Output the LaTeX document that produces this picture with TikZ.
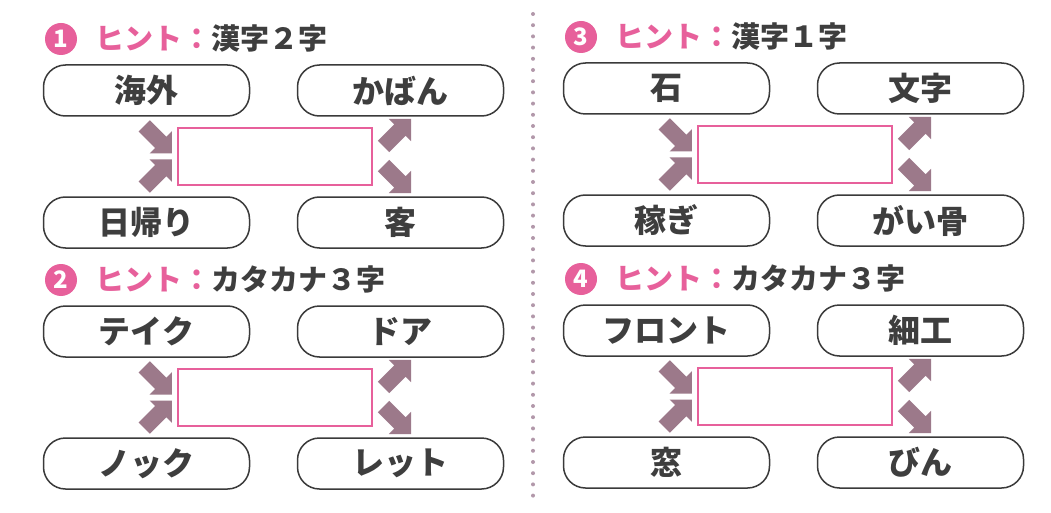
\documentclass[tikz,border=0pt]{standalone}
\usepackage{fontspec}
\newfontfamily\jp{Noto Sans CJK JP}
\newfontfamily\jpblack{Noto Sans CJK JP Black}
\newfontfamily\jpmed{Noto Sans CJK JP Medium}
\usetikzlibrary{calc}
\definecolor{pinkc}{RGB}{231,96,155}
\definecolor{arrowc}{RGB}{156,121,138}
\definecolor{textc}{RGB}{62,62,62}
\definecolor{linec}{RGB}{58,58,58}
\definecolor{dotc}{RGB}{178,152,170}
\tikzset{
  pill/.style={draw=linec, line width=1.5pt, rounded corners=22pt, minimum width=206pt,
    minimum height=51pt, inner sep=0pt, text=textc, font=\jpblack\fontsize{32pt}{36pt}\selectfont},
  ansbox/.style={draw=pinkc, line width=2.3pt, minimum width=194pt, minimum height=57pt, inner sep=0pt},
  numcirc/.style={circle, fill=pinkc, minimum size=32pt, inner sep=0pt, text=white,
    font=\jpblack\fontsize{24pt}{26pt}\selectfont},
  hinttext/.style={anchor=west, inner sep=0pt, text=textc, font=\jp\bfseries\fontsize{29pt}{32pt}\selectfont},
  barrow/.pic={\fill[arrowc] (0,0) -- (-15.8,15.8) -- (-15.8,8) -- (-39,8) -- (-39,-8)
    -- (-15.8,-8) -- (-15.8,-15.8) -- cycle;}
}
\newcommand\quizpanel[8]{%
  \begin{scope}[shift={#2}]
    \node[numcirc] (#1n) at (61,39) {#3};
    \node[hinttext] (#1h) at (95,38) {\textcolor{pinkc}{\jpmed ヒント：}#4};
    \node[pill] (#1tl) at (146.5,90.5) {#5};
    \node[pill] (#1tr) at (400.5,90.5) {#6};
    \node[pill] (#1bl) at (146.5,222.5) {#7};
    \node[pill] (#1br) at (400.5,222.5) {#8};
    \node[ansbox] (#1box) at (275,156.5) {};
    \pic[rotate=-45] at ($(#1box.west)+(-5,-3)$) {barrow};
    \pic[rotate=45] at ($(#1box.west)+(-5,3)$) {barrow};
    \pic[rotate=45] at ($(#1box.north east)+(38,-8)$) {barrow};
    \pic[rotate=-45] at ($(#1box.south east)+(38,7)$) {barrow};
  \end{scope}}
\begin{document}
\begin{tikzpicture}[x=1pt,y=-1pt]
  \fill[white] (0,0) rectangle (1051,513);
  \useasboundingbox (0,0) rectangle (1051,513);
  \foreach \i in {0,...,43} \fill[dotc] (533,{14+\i*11.2}) circle (2pt);
  \quizpanel{a}{(0,0)}{1}{漢字２字}{海外}{かばん}{日帰り}{客}
  \quizpanel{b}{(0,241)}{2}{カタカナ３字}{テイク}{ドア}{ノック}{レット}
  \quizpanel{c}{(520,-2)}{3}{漢字１字}{石}{文字}{稼ぎ}{がい骨}
  \quizpanel{d}{(520,240)}{4}{カタカナ３字}{フロント}{細工}{窓}{びん}
\end{tikzpicture}
\end{document}
